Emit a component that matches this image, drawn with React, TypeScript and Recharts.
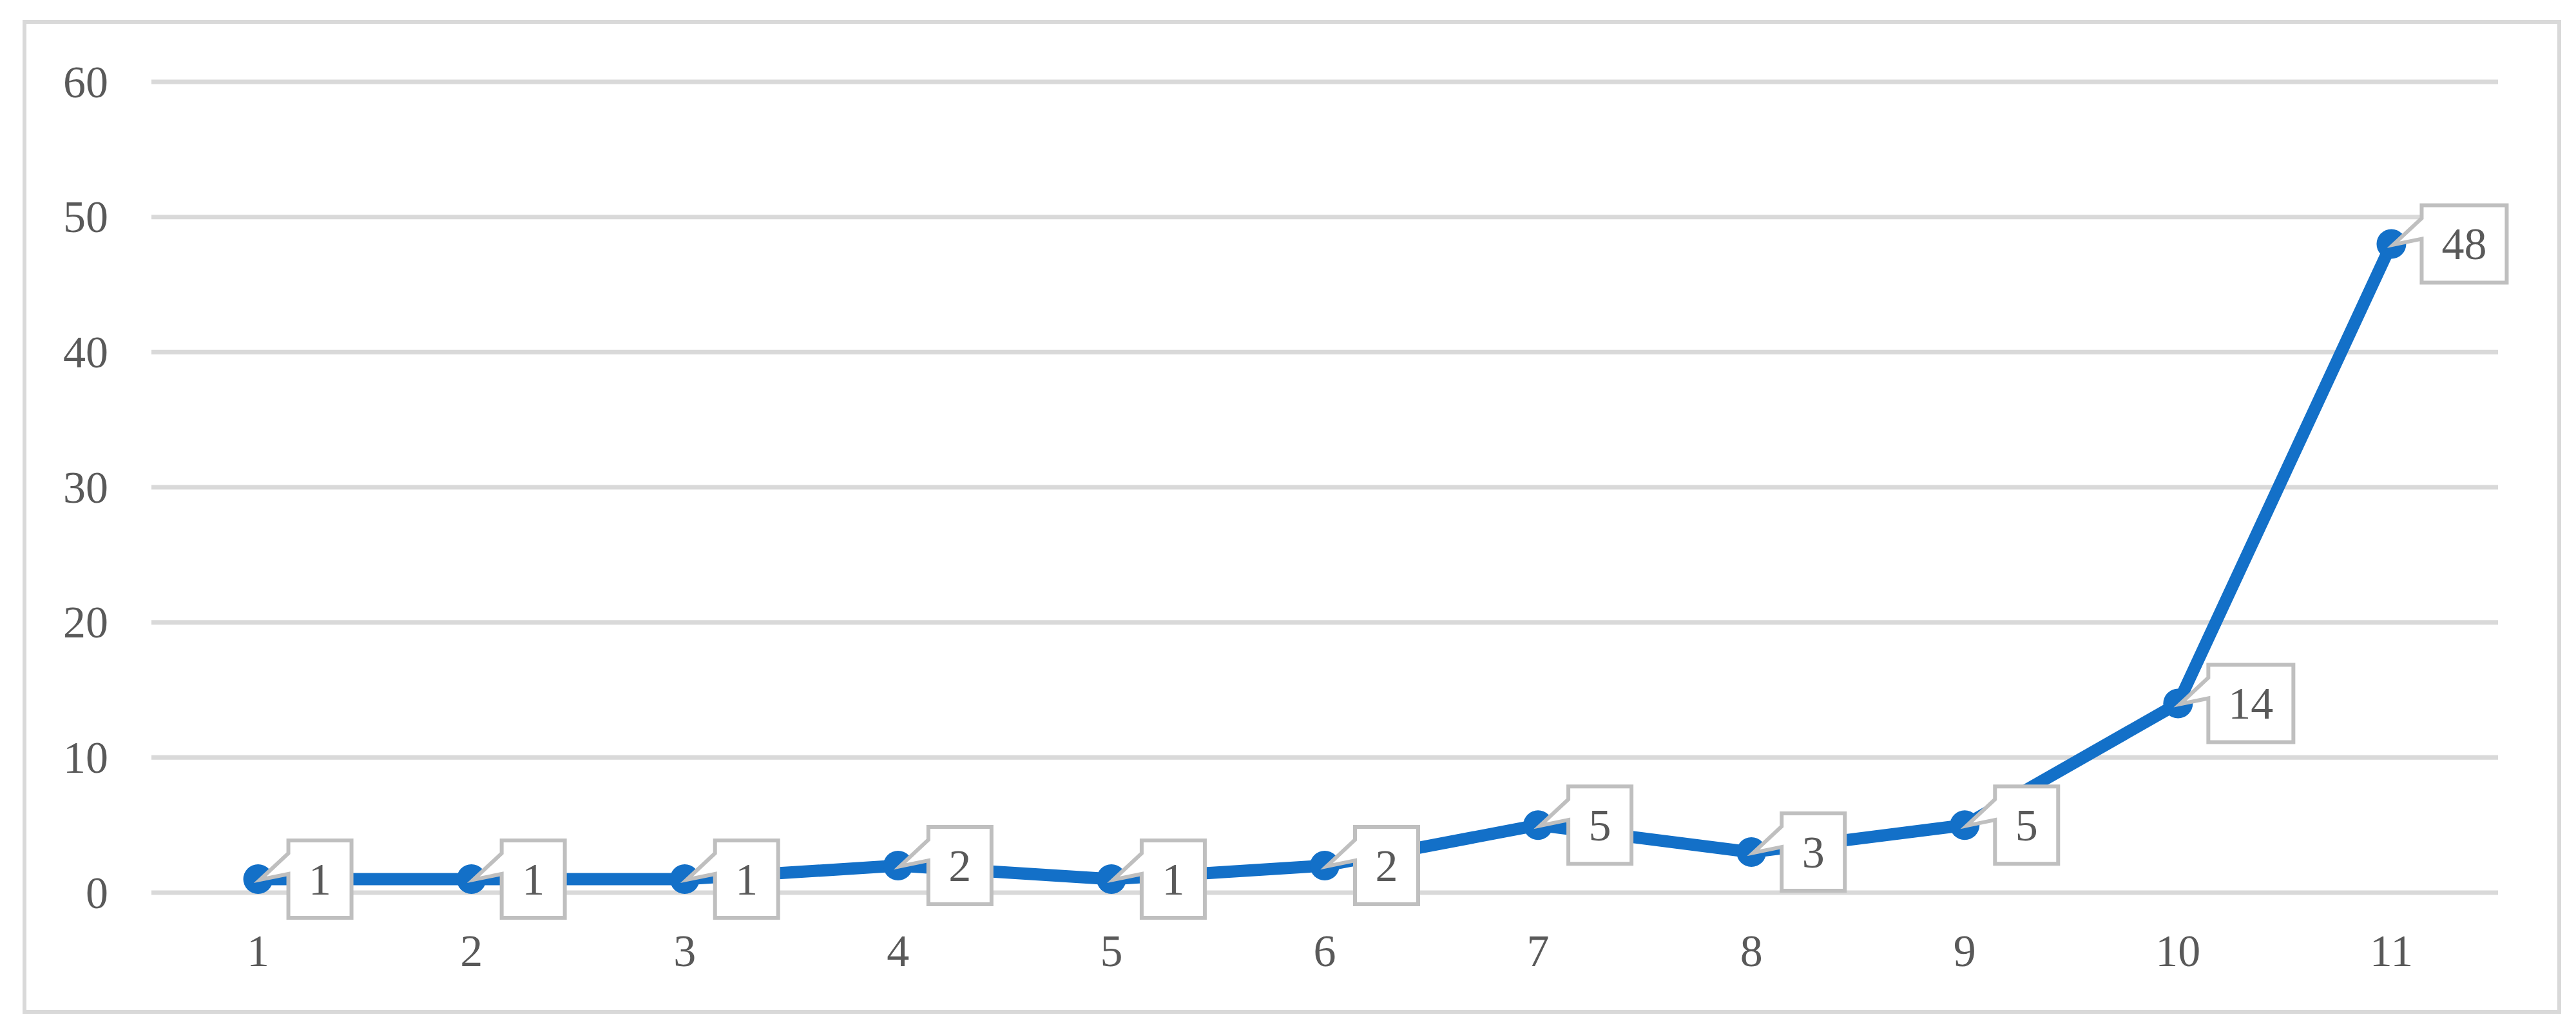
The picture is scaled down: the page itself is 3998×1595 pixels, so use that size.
import React from "react";
import { LineChart, Line, XAxis, YAxis, CartesianGrid, LabelList } from "recharts";

const categories = [1, 2, 3, 4, 5, 6, 7, 8, 9, 10, 11];
const values = [1, 1, 1, 2, 1, 2, 5, 3, 5, 14, 48];
const yTicks = [0, 10, 20, 30, 40, 50, 60];

const data = categories.map((c, i) => ({ x: c, value: values[i] }));

const FONT = '"Liberation Serif", "Times New Roman", serif';
const TEXT = "#595959";
const BLUE = "#1370c8";
const GRID = "#d9d9d9";

const XTick = ({ x, y, payload }: any) => (
  <text x={x} y={y + 90} textAnchor="middle" dominantBaseline="central" fill={TEXT} fontSize={70} fontFamily={FONT}>
    {payload.value}
  </text>
);

const YTick = ({ x, y, payload }: any) => (
  <text x={x - 67} y={y} textAnchor="end" dominantBaseline="central" fill={TEXT} fontSize={70} fontFamily={FONT}>
    {payload.value}
  </text>
);

// excel-style callout box with a pointer to the marker
const Callout = (props: any) => {
  const { x, y, value } = props;
  const text = String(value);
  const w = 34 * text.length + 64;
  const L = x + 47;
  const T = y - 60;
  const R = L + w;
  const B = T + 120;
  const d = `M${L},${T} L${R},${T} L${R},${B} L${L},${B} L${L},${T + 52} L${x + 3},${y + 1} L${L},${T + 20} Z`;
  return (
    <g>
      <path d={d} fill="#fff" stroke="#bfbfbf" strokeWidth={6} />
      <text x={(L + R) / 2} y={y} textAnchor="middle" dominantBaseline="central" fill={TEXT} fontSize={70} fontFamily={FONT}>
        {text}
      </text>
    </g>
  );
};

const App = () => {
  return (
    <div style={{ position: "absolute", left: 0, top: 0, width: 3998, height: 1595, background: "#fff" }}>
      <div
        style={{
          position: "absolute",
          left: 35,
          top: 31,
          width: 3940,
          height: 1542,
          border: `6px solid ${GRID}`,
          boxSizing: "border-box",
        }}
      />
      <LineChart width={3998} height={1595} data={data} margin={{ top: 127, right: 121, bottom: 110, left: 35 }}>
        <CartesianGrid vertical={false} stroke={GRID} strokeWidth={7} />
        <XAxis
          dataKey="x"
          type="number"
          domain={[0.5, 11.5]}
          ticks={categories}
          height={100}
          axisLine={false}
          tickLine={false}
          tickSize={0}
          tickMargin={0}
          tick={<XTick />}
        />
        <YAxis
          domain={[0, 60]}
          ticks={yTicks}
          width={200}
          axisLine={false}
          tickLine={false}
          tickSize={0}
          tickMargin={0}
          tick={<YTick />}
        />
        <Line
          dataKey="value"
          stroke={BLUE}
          strokeWidth={19}
          dot={{ r: 23, fill: BLUE, stroke: BLUE, strokeWidth: 0 }}
          activeDot={false}
          isAnimationActive={false}
        >
          <LabelList dataKey="value" content={<Callout />} />
        </Line>
      </LineChart>
    </div>
  );
};

export default App;
